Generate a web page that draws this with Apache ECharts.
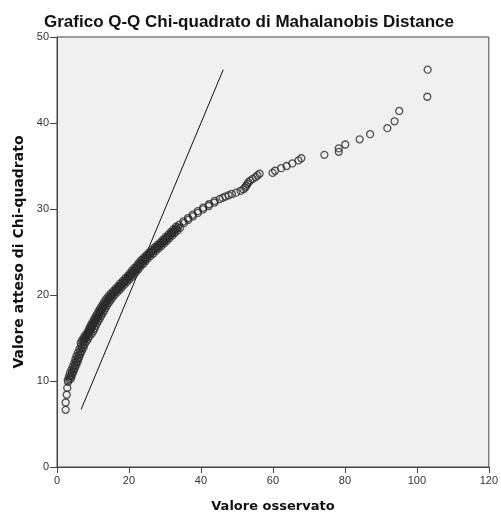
<!DOCTYPE html>
<html>
<head>
<meta charset="utf-8">
<script src="https://cdn.jsdelivr.net/npm/echarts@6/dist/echarts.min.js"></script>
<style>html,body{margin:0;padding:0;background:#fff}#c{width:501px;height:518px}</style>
</head>
<body>
<div id="c"></div>
<script>
var titleText = "Grafico Q-Q Chi-quadrato di Mahalanobis Distance";
var xAxisName = "Valore osservato";
var yAxisName = "Valore atteso di Chi-quadrato";
var xTicks = [0, 20, 40, 60, 80, 100, 120];
var yTicks = [0, 10, 20, 30, 40, 50];

var observed = [
  2.4, 2.4, 2.7, 2.85, 3.1,
  3.0, 3.9, 3.3, 4.2, 3.6, 4.6, 4.0, 5.0, 4.4, 5.4, 4.8, 5.8, 5.1, 6.1, 5.4, 6.5, 5.8, 6.9, 6.2, 7.4, 6.7, 7.7,
  6.6, 8.2, 7.0, 8.6, 7.4, 9.0, 7.9, 9.6,
  8.5, 10.1, 8.8, 10.4, 9.1, 10.7, 9.5,
  11.1, 9.9, 11.5, 10.3, 11.9, 10.7, 12.3, 11.1, 12.7, 11.5, 13.1, 11.9, 13.5,
  12.3, 13.9, 12.8, 14.4, 13.2, 14.9, 13.7, 15.4,
  14.3, 16.0, 14.9, 16.7, 15.6, 17.4,
  16.3, 18.0, 17.0, 18.7, 17.6, 19.4, 18.3, 20.1, 19.0, 20.8,
  19.7, 21.4, 20.3, 22.0, 20.9, 22.6, 21.5, 23.2, 22.2,
  23.9, 22.8, 24.5, 23.4, 25.1,
  24.1, 25.9, 24.9, 26.7, 25.6, 27.4, 26.4, 28.2, 27.2, 29.0, 28.0, 29.8, 28.8, 30.5,
  29.5, 31.2, 30.2, 32.0, 31.0, 32.7, 31.7, 33.5, 32.4, 34.2, 33.1,
  33.9, 35.3, 35.1, 36.5, 36.4, 37.8, 37.7, 39.2, 39.1, 40.6, 40.6, 42.2, 42.2, 43.8, 43.8,
  45.2, 46.0, 46.8, 47.7, 48.6, 49.8, 51.0, 51.8, 52.3, 52.6, 52.9, 53.2, 53.7, 54.4, 55.2, 55.7, 56.3,
  59.9, 60.6, 62.3, 63.8, 65.4, 67.1, 67.9, 74.3, 78.3, 78.3, 80.1, 84.1, 87.0, 91.8, 93.8, 95.1, 102.9, 103.0,
  3.5, 3.8, 4.2, 4.6, 5.0, 5.4, 5.75, 6.1, 6.5, 6.9, 7.3,
  7.3, 7.5, 7.7, 7.9, 8.1, 8.3, 8.6, 8.9,
  9.1, 9.3, 9.4, 9.6, 9.7, 9.9, 10.1,
  10.4, 10.6, 10.8, 11.0, 11.2, 11.4, 11.6, 11.8, 12.0, 12.2, 12.4, 12.6, 12.8,
  13.1, 13.3, 13.6, 13.8, 14.0, 14.3, 14.5, 14.8,
  15.1, 15.4, 15.7, 16.1, 16.4, 16.8,
  17.1, 17.4, 17.8, 18.1, 18.4, 18.8, 19.1, 19.5, 19.8, 20.2,
  20.5, 20.8, 21.1, 21.4, 21.7, 22.0, 22.3, 22.7, 23.0,
  23.3, 23.6, 23.9, 24.2, 24.5,
  24.9, 25.3, 25.7, 26.1, 26.4, 26.8, 27.2, 27.6, 28.0, 28.4, 28.8, 29.2, 29.6, 29.9,
  30.3, 30.6, 31.0, 31.4, 31.8, 32.1, 32.5, 32.9, 33.2, 33.6
];
var expected = [
  6.65, 7.5, 8.4, 9.2, 9.9,
  10.1, 10.3, 10.5, 10.7, 10.9, 11.1, 11.3, 11.5, 11.7, 11.9, 12.1, 12.3, 12.5, 12.7, 12.9, 13.1, 13.3, 13.5, 13.7, 13.9, 14.1, 14.3,
  14.45, 14.6, 14.75, 14.9, 15.05, 15.2, 15.35, 15.5,
  15.65, 15.8, 15.95, 16.1, 16.25, 16.4, 16.55,
  16.7, 16.85, 17.0, 17.15, 17.3, 17.45, 17.6, 17.75, 17.9, 18.05, 18.2, 18.35, 18.5,
  18.65, 18.8, 18.95, 19.1, 19.25, 19.4, 19.55, 19.7,
  19.85, 20.0, 20.15, 20.3, 20.45, 20.6,
  20.75, 20.9, 21.05, 21.2, 21.35, 21.5, 21.65, 21.8, 21.95, 22.1,
  22.25, 22.4, 22.55, 22.7, 22.85, 23.0, 23.15, 23.3, 23.45,
  23.6, 23.75, 23.9, 24.05, 24.2,
  24.35, 24.5, 24.65, 24.8, 24.95, 25.1, 25.25, 25.4, 25.55, 25.7, 25.85, 26.0, 26.15, 26.3,
  26.45, 26.6, 26.75, 26.9, 27.05, 27.2, 27.35, 27.5, 27.65, 27.8, 27.95,
  28.15, 28.35, 28.55, 28.75, 28.95, 29.15, 29.35, 29.55, 29.75, 29.95, 30.15, 30.35, 30.55, 30.75, 30.95,
  31.15, 31.3, 31.45, 31.6, 31.75, 31.9, 32.1, 32.3, 32.5, 32.7, 32.9, 33.1, 33.3, 33.5, 33.7, 33.9, 34.1,
  34.2, 34.45, 34.75, 35.0, 35.3, 35.65, 35.9, 36.3, 36.65, 37.05, 37.5, 38.1, 38.7, 39.4, 40.2, 41.4, 43.05, 46.2,
  10.2, 10.6, 11.0, 11.4, 11.8, 12.2, 12.6, 13.0, 13.4, 13.8, 14.2,
  14.52, 14.67, 14.82, 14.97, 15.12, 15.27, 15.42, 15.57,
  15.72, 15.87, 16.02, 16.17, 16.32, 16.47, 16.62,
  16.77, 16.92, 17.07, 17.22, 17.37, 17.52, 17.67, 17.82, 17.97, 18.12, 18.27, 18.42, 18.57,
  18.72, 18.87, 19.02, 19.17, 19.32, 19.47, 19.62, 19.77,
  19.92, 20.07, 20.22, 20.37, 20.52, 20.67,
  20.82, 20.97, 21.12, 21.27, 21.42, 21.57, 21.72, 21.87, 22.02, 22.17,
  22.32, 22.47, 22.62, 22.77, 22.92, 23.07, 23.22, 23.37, 23.52,
  23.67, 23.82, 23.97, 24.12, 24.27,
  24.42, 24.57, 24.72, 24.87, 25.02, 25.17, 25.32, 25.47, 25.62, 25.77, 25.92, 26.07, 26.22, 26.37,
  26.52, 26.67, 26.82, 26.97, 27.12, 27.27, 27.42, 27.57, 27.72, 27.87
];
var refLine = [[6.7, 6.7], [46.2, 46.2]];

var points = observed.map(function (v, i) { return [v, expected[i]]; });

var chart = echarts.init(document.getElementById('c'), null, {renderer: 'canvas'});
chart.setOption({
  animation: false,
  backgroundColor: '#ffffff',
  title: {
    text: titleText,
    left: 39, top: 9,
    textStyle: {fontFamily: 'Liberation Sans', fontSize: 17, fontWeight: 'bold', color: '#111'}
  },
  grid: {
    left: 57, top: 37, width: 435, height: 434,
    show: true, backgroundColor: '#f0f0f0', borderColor: '#444', borderWidth: 1
  },
  xAxis: {
    type: 'value', min: 0, max: 120, interval: 20,
    name: xAxisName, nameLocation: 'middle', nameGap: 33,
    nameTextStyle: {fontFamily: 'DejaVu Sans', fontWeight: 'bold', fontSize: 13, color: '#111'},
    axisLine: {show: true, onZero: false, lineStyle: {color: '#444', width: 1}},
    axisTick: {show: true, inside: false, length: 6, lineStyle: {color: '#444'}},
    axisLabel: {fontFamily: 'Liberation Sans', fontSize: 11, color: '#333', margin: 8,
      formatter: function (v) { return xTicks.indexOf(v) >= 0 ? String(v) : ''; }},
    splitLine: {show: false}
  },
  yAxis: {
    type: 'value', min: 0, max: 50, interval: 10,
    name: yAxisName, nameLocation: 'middle', nameGap: 31,
    nameTextStyle: {fontFamily: 'DejaVu Sans', fontWeight: 'bold', fontSize: 14, color: '#111'},
    axisLine: {show: true, onZero: false, lineStyle: {color: '#444', width: 1}},
    axisTick: {show: true, inside: false, length: 7, lineStyle: {color: '#444'}},
    axisLabel: {fontFamily: 'Liberation Sans', fontSize: 11, color: '#333', margin: 8,
      formatter: function (v) { return yTicks.indexOf(v) >= 0 ? String(v) : ''; }},
    splitLine: {show: false}
  },
  series: [
    {
      type: 'line', data: refLine, symbol: 'none', silent: true,
      lineStyle: {color: '#111', width: 1}, z: 1
    },
    {
      type: 'scatter', data: points, symbol: 'circle', symbolSize: 7,
      itemStyle: {color: 'rgba(0,0,0,0)', borderColor: '#2a2a2a', borderWidth: 1.3},
      z: 2
    }
  ]
});
</script>
</body>
</html>
